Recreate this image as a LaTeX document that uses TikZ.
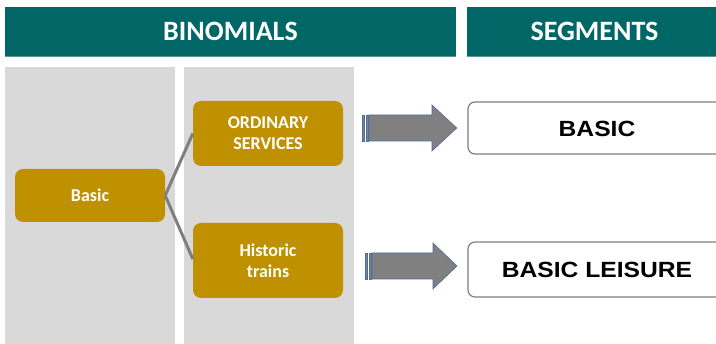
\documentclass[tikz,border=0pt]{standalone}
\usepackage{fontspec}
\setmainfont{Carlito}
\newfontfamily\arialfont{Liberation Sans}
\usetikzlibrary{positioning}
\definecolor{tealhead}{RGB}{1,102,102}
\definecolor{tealline}{RGB}{90,150,150}
\definecolor{panelgray}{RGB}{217,217,217}
\definecolor{goldbox}{RGB}{191,144,0}
\definecolor{linkgray}{RGB}{127,127,127}
\definecolor{arrowfill}{RGB}{128,128,128}
\definecolor{arrowedge}{RGB}{79,110,160}
\definecolor{boxedge}{RGB}{127,127,127}
\tikzset{
  header/.style={fill=tealhead, text=white, font=\bfseries\fontsize{28}{30}\selectfont, inner sep=0pt, minimum height=49pt},
  panel/.style={fill=panelgray, inner sep=0pt, minimum width=170pt},
  goldnode/.style={fill=goldbox, text=white, rounded corners=8pt, inner sep=0pt, minimum width=150pt, align=center, font=\bfseries\fontsize{18}{21}\selectfont},
  link/.style={draw=linkgray, line width=3pt},
  segbox/.style={draw=boxedge, line width=1.2pt, fill=white, rounded corners=7pt, inner sep=0pt, minimum width=257pt},
  segtext/.style={font=\arialfont\bfseries\fontsize{22}{24}\selectfont, text=black, inner sep=0pt},
  blockarrow/.style={fill=arrowfill, draw=arrowedge, line width=0.6pt},
  stripe/.style={fill=arrowfill, draw=arrowedge, line width=0.6pt}
}
\begin{document}
\begin{tikzpicture}[x=1pt, y=-1pt]
\useasboundingbox (0,0) rectangle (716,344);
\fill[white] (0,0) rectangle (716,344);
% headers
\node[header, minimum width=451pt] (h1) at (230.5,31.5) {BINOMIALS};
\node[header, minimum width=255pt] (h2) at (594.5,31.5) {SEGMENTS};
\draw[tealline, line width=0.8pt] (h1.south west) -- (h1.south east);
\draw[tealline, line width=0.8pt] (h2.south west) -- (h2.south east);
% panels
\node[panel, minimum height=285pt] (p1) at (90,209.5) {};
\node[panel, minimum height=285pt] (p2) at (269,209.5) {};
% gold nodes
\node[goldnode, minimum height=53pt] (basic) at (90,195.5) {Basic};
\node[goldnode, minimum height=65pt] (ord) at (268,133.5) {ORDINARY\\SERVICES};
\node[goldnode, minimum height=75pt] (hist) at (268,260.5) {Historic\\trains};
% links
\draw[link] (basic.east) -- (ord.west);
\draw[link] (basic.east) -- ([yshift=1.5pt]hist.west);
% segment boxes
\node[segbox, minimum height=52pt] (seg1) at (596.5,128) {};
\node[segbox, minimum height=55pt] (seg2) at (596.5,269.5) {};
\node[segtext] (t1) at (597,128.5) {\scalebox{1.12}[1]{BASIC}};
\node[segtext] (t2) at (597,270) {\scalebox{1.12}[1]{BASIC LEISURE}};
% striped block arrows
\coordinate (a1) at (362,128);
\draw[stripe] (362,115) rectangle (364.5,141);
\draw[stripe] (366,115) rectangle (368,141);
\draw[blockarrow] (369,115) -- (432,115) -- (432,105) -- (456.7,128) -- (432,151) -- (432,141) -- (369,141) -- cycle;
\draw[stripe] (365,253) rectangle (367.5,279);
\draw[stripe] (369,253) rectangle (371,279);
\draw[blockarrow] (372,253) -- (433,253) -- (433,243) -- (457,266) -- (433,289) -- (433,279) -- (372,279) -- cycle;
\end{tikzpicture}
\end{document}
